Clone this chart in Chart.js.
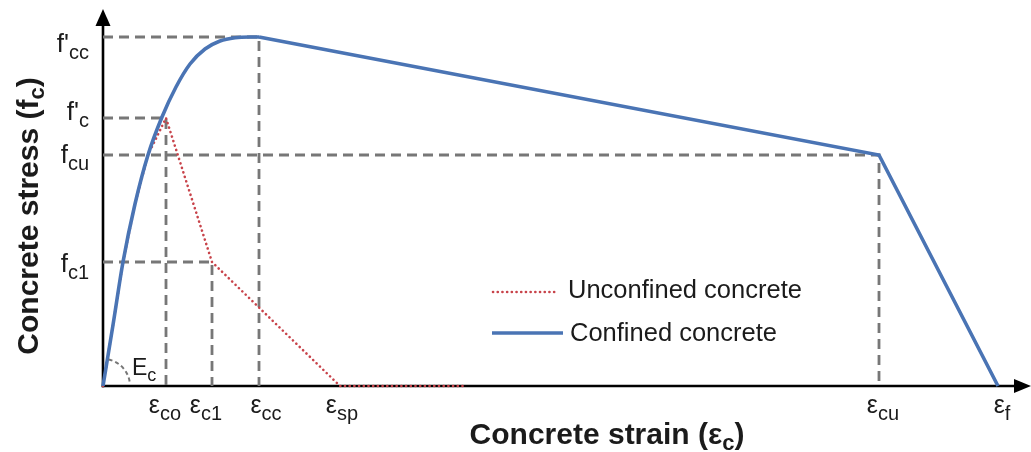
<!DOCTYPE html>
<html>
<head>
<meta charset="utf-8">
<script src="https://cdn.jsdelivr.net/npm/chart.js@4/dist/chart.umd.min.js"></script>
<style>
  html, body { margin: 0; padding: 0; background: #ffffff; }
  #wrap { width: 1031px; height: 452px; position: relative; }
</style>
</head>
<body>
<div id="wrap"><canvas id="c"></canvas></div>
<script>
// ---------- data (schematic units) ----------
const confinedRiseStrain = [0, 10, 20, 32, 45, 59, 73, 87, 102, 117, 132, 147, 156];
const confinedRiseStress = [0, 61, 124, 182, 231, 269, 299, 322, 337, 345, 348.3, 349, 349];
const confinedFallStrain = [156, 776, 895];
const confinedFallStress = [349, 231, 0];
const unconfinedStrain = [0, 10, 20, 32, 45, 63, 109, 237, 362];
const unconfinedStress = [0, 61, 124, 182, 231, 268, 124, 0, 0];

// reference (dashed) points: strain / stress pairs
const refStrain = [63, 109, 156, 776];   // eps_co, eps_c1, eps_cc, eps_cu
const refStress = [268, 124, 349, 231];  // f'c, fc1, f'cc, fcu

// tick labels
const yTickValues = [349, 268, 231, 124];
const yTickMain = ["f'", "f'", "f", "f"];
const yTickSub = ["cc", "c", "cu", "c1"];
const xTickValues = [63, 109, 156, 237, 776, 895];
const xTickMain = ["ε", "ε", "ε", "ε", "ε", "ε"];
const xTickSub = ["co", "c1", "cc", "sp", "cu", "f"];

const seriesNames = ["Unconfined concrete", "Confined concrete"];
const xTitle = ["Concrete strain (", "ε", "c", ")"];
const yTitle = ["Concrete stress (", "f", "c", ")"];

// ---------- styles ----------
const BLUE = '#4a74b4';
const RED = '#c8434a';
const GREY = '#777777';
const TXT = '#1b1b1b';
const FONT = '"Liberation Sans", Arial, sans-serif';
const yLabelDy = [15, 2, 8, 10];
const xLabelDx = [-1, -6, 7, 2, 4, 4];

const toPts = (xs, ys) => xs.map((x, i) => ({ x: x, y: ys[i] }));

const refSets = refStrain.map((sx, i) => ({
  label: 'ref' + i,
  data: [{ x: 0, y: refStress[i] }, { x: sx, y: refStress[i] }, { x: sx, y: 0 }],
  borderColor: GREY,
  borderWidth: 2.8,
  borderDash: [10, 6],
  pointRadius: 0,
  tension: 0,
  fill: false,
  clip: false,
  order: 5
}));

function subText(ctx, main, sub, x, y, mainFont, subFont, drop, align) {
  ctx.font = mainFont; const w1 = ctx.measureText(main).width;
  ctx.font = subFont; const w2 = ctx.measureText(sub).width;
  let s = x;
  if (align === 'right') s = x - w1 - w2;
  else if (align === 'center') s = x - (w1 + w2) / 2;
  ctx.textAlign = 'left';
  ctx.textBaseline = 'alphabetic';
  ctx.font = mainFont; ctx.fillText(main, s, y);
  ctx.font = subFont; ctx.fillText(sub, s + w1, y + drop);
}

function titleText(ctx, parts, cx, y, bigFont, subFont) {
  ctx.font = bigFont;
  const w0 = ctx.measureText(parts[0]).width;
  const w1 = ctx.measureText(parts[1]).width;
  const w3 = ctx.measureText(parts[3]).width;
  ctx.font = subFont;
  const w2 = ctx.measureText(parts[2]).width;
  let s = cx - (w0 + w1 + w2 + w3) / 2;
  ctx.textAlign = 'left'; ctx.textBaseline = 'alphabetic';
  ctx.font = bigFont; ctx.fillText(parts[0] + parts[1], s, y);
  ctx.font = subFont; ctx.fillText(parts[2], s + w0 + w1, y + 6);
  ctx.font = bigFont; ctx.fillText(parts[3], s + w0 + w1 + w2, y);
}

const decor = {
  id: 'decor',
  beforeDatasetsDraw(chart) {
    const ctx = chart.ctx;
    const xs = chart.scales.x, ys = chart.scales.y;
    const x0 = xs.getPixelForValue(0), y0 = ys.getPixelForValue(0);
    ctx.save();
    ctx.strokeStyle = '#000'; ctx.fillStyle = '#000'; ctx.lineWidth = 2.6;
    // y axis
    ctx.beginPath(); ctx.moveTo(x0, y0 + 1.3); ctx.lineTo(x0, 24); ctx.stroke();
    ctx.beginPath(); ctx.moveTo(x0, 9); ctx.lineTo(x0 - 7.5, 26); ctx.lineTo(x0 + 7.5, 26); ctx.closePath(); ctx.fill();
    // x axis
    ctx.beginPath(); ctx.moveTo(x0 - 1.3, y0); ctx.lineTo(1017, y0); ctx.stroke();
    ctx.beginPath(); ctx.moveTo(1031, y0); ctx.lineTo(1014, y0 - 7); ctx.lineTo(1014, y0 + 7); ctx.closePath(); ctx.fill();
    ctx.restore();
  },
  afterDatasetsDraw(chart) {
    const ctx = chart.ctx;
    const xs = chart.scales.x, ys = chart.scales.y;
    const x0 = xs.getPixelForValue(0), y0 = ys.getPixelForValue(0);
    ctx.save();
    ctx.fillStyle = TXT;
    // y tick labels
    yTickValues.forEach((v, i) => {
      subText(ctx, yTickMain[i], yTickSub[i], 89, ys.getPixelForValue(v) + yLabelDy[i],
        '26px ' + FONT, '20px ' + FONT, 7, 'right');
    });
    // x tick labels
    xTickValues.forEach((v, i) => {
      subText(ctx, xTickMain[i], xTickSub[i], xs.getPixelForValue(v) + xLabelDx[i], 413,
        '25px ' + FONT, '20px ' + FONT, 7, 'center');
    });
    // Ec angle
    ctx.strokeStyle = GREY; ctx.lineWidth = 2; ctx.setLineDash([4, 3]);
    ctx.beginPath(); ctx.arc(x0, y0, 27, -78 * Math.PI / 180, -4 * Math.PI / 180); ctx.stroke();
    ctx.setLineDash([]);
    subText(ctx, 'E', 'c', 132, 375, '23px ' + FONT, '18px ' + FONT, 6, 'left');
    // axis titles
    titleText(ctx, xTitle, 607, 444, 'bold 30px ' + FONT, 'bold 22px ' + FONT);
    ctx.save();
    ctx.translate(38, 216); ctx.rotate(-Math.PI / 2);
    titleText(ctx, yTitle, 0, 0, 'bold 30px ' + FONT, 'bold 22px ' + FONT);
    ctx.restore();
    // legend
    ctx.lineCap = 'round';
    ctx.strokeStyle = RED; ctx.lineWidth = 2.6; ctx.setLineDash([0.1, 4.6]);
    ctx.beginPath(); ctx.moveTo(493, 292); ctx.lineTo(557, 292); ctx.stroke();
    ctx.setLineDash([]); ctx.lineCap = 'butt';
    ctx.strokeStyle = BLUE; ctx.lineWidth = 3.6;
    ctx.beginPath(); ctx.moveTo(492, 333); ctx.lineTo(563, 333); ctx.stroke();
    ctx.fillStyle = TXT; ctx.font = '25.5px ' + FONT; ctx.textAlign = 'left'; ctx.textBaseline = 'alphabetic';
    ctx.fillText(seriesNames[0], 568, 298);
    ctx.fillText(seriesNames[1], 570, 341);
    ctx.restore();
  }
};

new Chart(document.getElementById('c'), {
  type: 'line',
  data: {
    datasets: [
      {
        label: seriesNames[1] + ' (rise)',
        data: toPts(confinedRiseStrain, confinedRiseStress),
        borderColor: BLUE, borderWidth: 3.6, pointRadius: 0,
        cubicInterpolationMode: 'monotone', fill: false, clip: false, order: 0
      },
      {
        label: seriesNames[1],
        data: toPts(confinedFallStrain, confinedFallStress),
        borderColor: BLUE, borderWidth: 3.6, pointRadius: 0,
        tension: 0, fill: false, clip: false, order: 0
      },
      {
        label: seriesNames[0],
        data: toPts(unconfinedStrain, unconfinedStress),
        borderColor: RED, borderWidth: 2.6, borderDash: [0.1, 4.6], borderCapStyle: 'round',
        pointRadius: 0, tension: 0, fill: false, clip: false, order: 1
      },
      ...refSets
    ]
  },
  options: {
    responsive: true,
    maintainAspectRatio: false,
    animation: false,
    events: [],
    layout: { padding: { left: 103, right: 13, top: 24, bottom: 66 } },
    scales: {
      x: { type: 'linear', min: 0, max: 915, display: false },
      y: { type: 'linear', min: 0, max: 362, display: false }
    },
    plugins: { legend: { display: false }, tooltip: { enabled: false } }
  },
  plugins: [decor]
});
</script>
</body>
</html>
